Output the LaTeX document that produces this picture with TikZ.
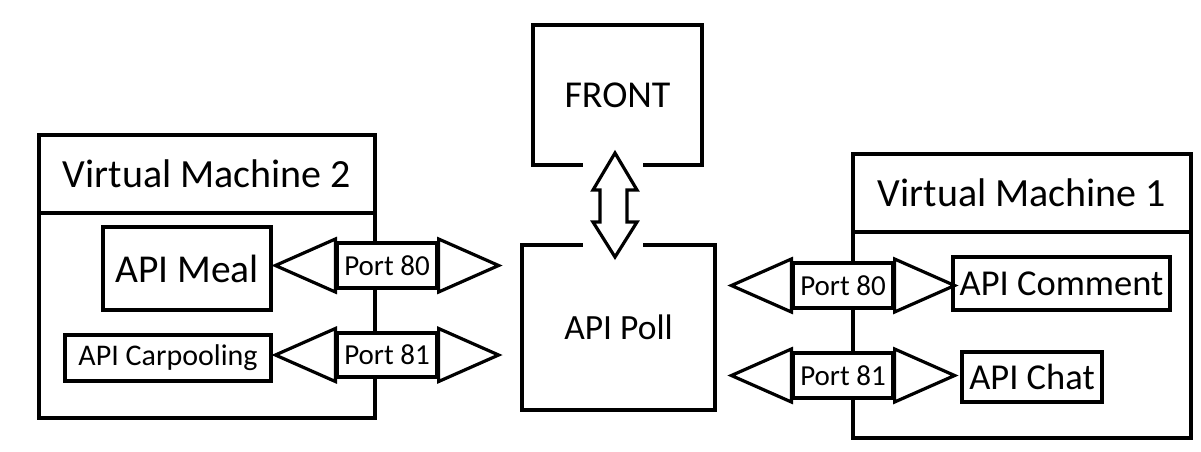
\documentclass[tikz,border=0pt]{standalone}
\usepackage{fontspec}
\setmainfont{Carlito}
\usetikzlibrary{calc}
\tikzset{
  box/.style={draw, line width=4.5pt, fill=white, inner sep=0pt, align=center},
  shaft/.style={draw, line width=3.2pt, fill=white, inner sep=0pt, minimum width=100pt, minimum height=45pt, font=\fontsize{29}{32}\selectfont},
  head/.style={draw, line width=3.2pt, fill=white, line join=miter},
}
\newcommand{\dblheads}[1]{%
  \filldraw[head] ($(#1.west)+(0,-26.5)$) -- ($(#1.west)+(-60,0)$) -- ($(#1.west)+(0,26.5)$) -- cycle;
  \filldraw[head] ($(#1.east)+(0,-26.5)$) -- ($(#1.east)+(60,0)$) -- ($(#1.east)+(0,26.5)$) -- cycle;
}
\begin{document}
\begin{tikzpicture}[x=1pt,y=-1pt]
\useasboundingbox (0,0) rectangle (1201,451);
\fill[white] (0,0) rectangle (1201,451);

% Virtual Machine 2
\node[box, minimum width=336pt, minimum height=283pt] (vm2) at (207,276.5) {};
\node[box, minimum width=336pt, minimum height=78pt, font=\fontsize{40}{44}\selectfont] (vm2t) at (207,174) {Virtual Machine 2};
\node[box, minimum width=168pt, minimum height=83pt, font=\fontsize{39.5}{42}\selectfont] (meal) at (187,268.5) {API Meal};
\node[box, minimum width=206pt, minimum height=46pt, font=\fontsize{30}{32}\selectfont] (carpool) at (168,358) {API Carpooling};

% Virtual Machine 1
\node[box, minimum width=338pt, minimum height=284pt] (vm1) at (1022,296) {};
\node[box, minimum width=338pt, minimum height=78pt, font=\fontsize{40}{44}\selectfont] (vm1t) at (1022,193) {Virtual Machine 1};
\node[box, minimum width=217pt, minimum height=53pt, font=\fontsize{36.5}{40}\selectfont] (comment) at (1061.5,283.5) {API Comment};
\node[box, minimum width=140pt, minimum height=50pt, font=\fontsize{36.5}{40}\selectfont] (chat) at (1032,377) {API Chat};

% Center
\node[box, minimum width=169pt, minimum height=140pt, font=\fontsize{38}{42}\selectfont] (front) at (617.5,95) {FRONT};
\node[box, minimum width=193pt, minimum height=165pt, font=\fontsize{35.5}{40}\selectfont] (poll) at (618.5,327.5) {\raisebox{-3pt}{API Poll}};
\fill[white] (583,160) rectangle (643,170);
\fill[white] (583,240) rectangle (643,250);

% vertical double arrow between FRONT and API Poll
\coordinate (va) at ($(front.south)!0.5!(poll.north)+(-3,0)$);
\filldraw[head] ($(va)+(0,-52)$) -- ($(va)+(22,-15)$) -- ($(va)+(12,-15)$) -- ($(va)+(12,17)$) -- ($(va)+(22,17)$)
  -- ($(va)+(0,52)$) -- ($(va)+(-22,17)$) -- ($(va)+(-15,17)$) -- ($(va)+(-15,-15)$) -- ($(va)+(-22,-15)$) -- cycle;

% Port arrows, left
\node[shaft] (p80l) at (387,265.5) {Port 80};
\dblheads{p80l}
\node[shaft, minimum height=44pt] (p81l) at (387,355) {Port 81};
\dblheads{p81l}

% Port arrows, right
\node[shaft] (p80r) at (843,285.5) {Port 80};
\dblheads{p80r}
\node[shaft] (p81r) at (843,375.5) {Port 81};
\dblheads{p81r}
\end{tikzpicture}
\end{document}
